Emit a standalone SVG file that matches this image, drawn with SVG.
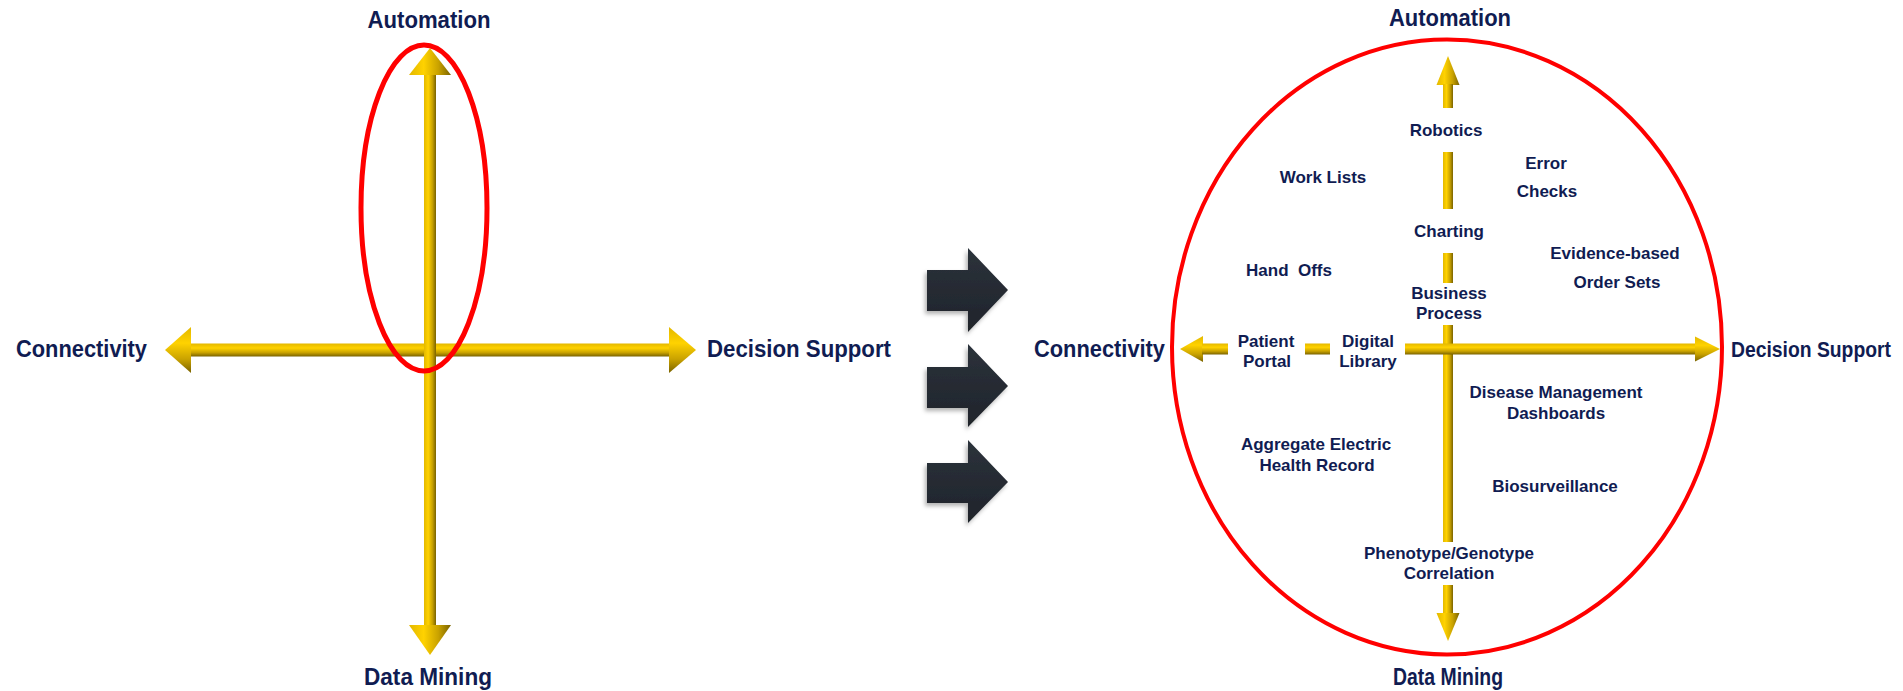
<svg xmlns="http://www.w3.org/2000/svg" width="1903" height="691" viewBox="0 0 1903 691">
<defs>
<linearGradient id="gH" x1="0" y1="0" x2="0" y2="1">
<stop offset="0" stop-color="#e3b800"/>
<stop offset="0.35" stop-color="#ffd200"/>
<stop offset="0.7" stop-color="#c9a200"/>
<stop offset="1" stop-color="#7a6300"/>
</linearGradient>
<linearGradient id="gV" x1="0" y1="0" x2="1" y2="0">
<stop offset="0" stop-color="#e3b800"/>
<stop offset="0.35" stop-color="#ffd200"/>
<stop offset="0.7" stop-color="#c9a200"/>
<stop offset="1" stop-color="#7a6300"/>
</linearGradient>
<linearGradient id="gDark" x1="0" y1="0" x2="0" y2="1">
<stop offset="0" stop-color="#2c323b"/>
<stop offset="1" stop-color="#1f242b"/>
</linearGradient>
<filter id="sh" x="-20%" y="-20%" width="140%" height="140%">
<feDropShadow dx="-2" dy="3" stdDeviation="2" flood-color="#000" flood-opacity="0.3"/>
</filter>
<style>
.t{font-family:"Liberation Sans",Arial,sans-serif;font-weight:bold;fill:#101c52;}
.big{font-size:23px;}
.sm{font-size:17px;text-anchor:middle;}
.mid{text-anchor:middle;}
.ring{fill:none;stroke:#ff0000;}
.h{fill:url(#gH);}
.v{fill:url(#gV);}
.dark{fill:url(#gDark);filter:url(#sh);}
</style>
</defs>
<rect width="1903" height="691" fill="#ffffff"/>

<g id="left-axes">
<rect class="h" x="190" y="343.5" width="480" height="13"/>
<rect class="v" x="424" y="74" width="12" height="552"/>
<polygon class="v" points="430,48 451,75 409,75"/>
<polygon class="v" points="409,625 451,625 430,655"/>
<polygon class="h" points="165,350 191,327 191,373"/>
<polygon class="h" points="696,350 669,327 669,373"/>
</g>
<g id="left-highlight">
<ellipse class="ring" cx="424" cy="208" rx="63" ry="163" stroke-width="5"/>
</g>
<g id="left-labels">
<text class="t big mid" x="429" y="28" textLength="123" lengthAdjust="spacingAndGlyphs">Automation</text>
<text class="t big mid" x="428" y="685" textLength="128" lengthAdjust="spacingAndGlyphs">Data Mining</text>
<text class="t big" x="16" y="357" textLength="131" lengthAdjust="spacingAndGlyphs">Connectivity</text>
<text class="t big" x="707" y="357" textLength="184" lengthAdjust="spacingAndGlyphs">Decision Support</text>
</g>

<g id="transition-arrows">
<polygon class="dark" points="927,270 968,270 968,248 1008,290 968,332 968,311 927,311"/>
<polygon class="dark" points="927,367 968,367 968,344 1008,386 968,427 968,408 927,408"/>
<polygon class="dark" points="927,463 968,463 968,440 1008,482 968,523 968,503 927,503"/>
</g>

<g id="right-ring">
<ellipse class="ring" cx="1447" cy="347" rx="275" ry="307.5" stroke-width="4"/>
</g>

<g id="right-axes">
<polygon class="v" points="1448,56 1459.5,85 1436.5,85"/>
<rect class="v" x="1443" y="84" width="10" height="24"/>
<rect class="v" x="1443" y="152" width="10" height="57"/>
<rect class="v" x="1443" y="253" width="10" height="30"/>
<rect class="v" x="1443" y="325" width="10" height="217"/>
<rect class="v" x="1443" y="585" width="10" height="29"/>
<polygon class="v" points="1436.5,613 1459.5,613 1448,641"/>
<polygon class="h" points="1180,349 1203,336 1203,362"/>
<rect class="h" x="1202" y="343.5" width="26" height="11"/>
<rect class="h" x="1305" y="343.5" width="25" height="11"/>
<rect class="h" x="1405" y="343.5" width="291" height="11"/>
<polygon class="h" points="1720,349 1695,336.5 1695,361.5"/>
</g>

<g id="right-labels">
<text class="t big mid" x="1450" y="26" textLength="122" lengthAdjust="spacingAndGlyphs">Automation</text>
<text class="t big mid" x="1448" y="685" textLength="110" lengthAdjust="spacingAndGlyphs">Data Mining</text>
<text class="t big" x="1034" y="357" textLength="131" lengthAdjust="spacingAndGlyphs">Connectivity</text>
<text class="t" style="font-size:18.5px" transform="translate(1731,357) scale(1,1.2)" x="0" y="0" textLength="160" lengthAdjust="spacingAndGlyphs">Decision Support</text>
</g>

<g id="node-robotics"><text class="t sm" x="1446" y="136">Robotics</text></g>
<g id="node-work-lists"><text class="t sm" x="1323" y="183">Work Lists</text></g>
<g id="node-error-checks"><text class="t sm" x="1546" y="169">Error</text><text class="t sm" x="1547" y="197">Checks</text></g>
<g id="node-charting"><text class="t sm" x="1449" y="237">Charting</text></g>
<g id="node-hand-offs"><text class="t sm" x="1289" y="276">Hand&#160; Offs</text></g>
<g id="node-evidence"><text class="t sm" x="1615" y="259">Evidence-based</text><text class="t sm" x="1617" y="288">Order Sets</text></g>
<g id="node-business"><text class="t sm" x="1449" y="299">Business</text><text class="t sm" x="1449" y="319">Process</text></g>
<g id="node-patient-portal"><text class="t sm" x="1266" y="347">Patient</text><text class="t sm" x="1267" y="367">Portal</text></g>
<g id="node-digital-library"><text class="t sm" x="1368" y="347">Digital</text><text class="t sm" x="1368" y="367">Library</text></g>
<g id="node-disease"><text class="t sm" x="1556" y="398">Disease Management</text><text class="t sm" x="1556" y="419">Dashboards</text></g>
<g id="node-aggregate"><text class="t sm" x="1316" y="450">Aggregate Electric</text><text class="t sm" x="1317" y="471">Health Record</text></g>
<g id="node-biosurveillance"><text class="t sm" x="1555" y="492">Biosurveillance</text></g>
<g id="node-phenotype"><text class="t sm" x="1449" y="559">Phenotype/Genotype</text><text class="t sm" x="1449" y="579">Correlation</text></g>
</svg>
